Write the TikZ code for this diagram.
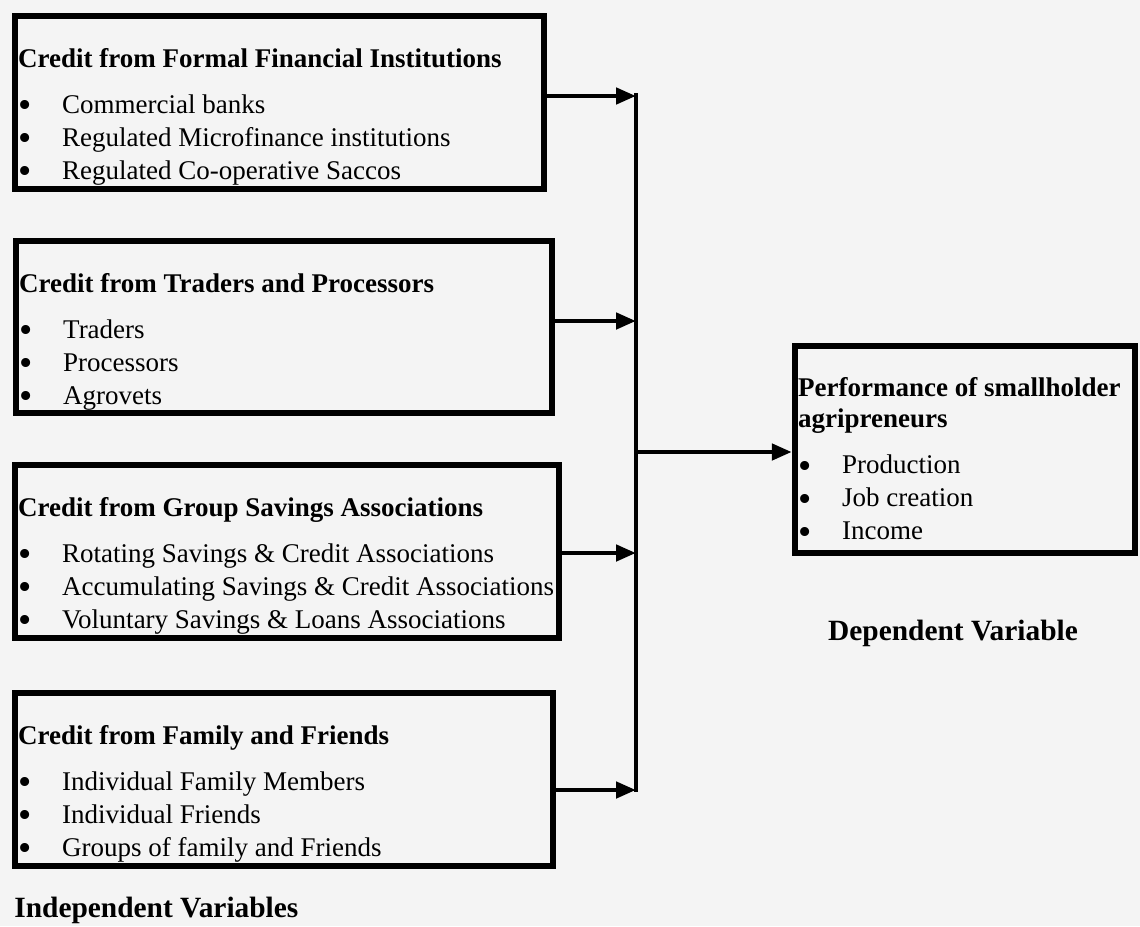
\documentclass[tikz,border=0pt]{standalone}
\usepackage{fontspec}
\setmainfont{Liberation Serif}
\usetikzlibrary{arrows.meta,positioning}
\definecolor{pagegray}{HTML}{F4F4F4}
\newcommand{\itm}[1]{\makebox[22pt][l]{\smash{\raisebox{-2.4pt}{\scalebox{1.4}{\textbullet}}}}#1}

\begin{document}
\begin{tikzpicture}[x=0.5pt,y=-0.5pt,
  varbox/.style={draw, line width=3.2pt, inner sep=0pt},
  itemlist/.style={align=left, inner sep=0pt, anchor=north west, font=\fontsize{13.5}{16.5}\selectfont},
  varlabel/.style={inner sep=0pt, font=\bfseries\fontsize{14.7}{17}\selectfont},
  link/.style={line width=2.3pt, -{Triangle[length=10pt,width=8pt]}}]
\fill[pagegray] (0,0) rectangle (1140,926);
\node[varbox, minimum width=264.5pt, minimum height=86.5pt] (formal) at (279.5,102.5) {};
\node[varbox, minimum width=268pt, minimum height=86pt] (traders) at (284,327) {};
\node[varbox, minimum width=272pt, minimum height=86.5pt] (groups) at (287,551.5) {};
\node[varbox, minimum width=269pt, minimum height=86.5pt] (family) at (284,779.5) {};
\node[varbox, minimum width=170pt, minimum height=103.5pt] (perf) at (965,449.5) {};
\node[itemlist] (formaltxt) at ([xshift=3pt, yshift=-17.4pt]formal.north west) {\textbf{Credit from Formal Financial Institutions}\\[6.5pt]
  \itm{Commercial banks}\\ \itm{Regulated Microfinance institutions}\\ \itm{Regulated Co-operative Saccos}};
\node[itemlist] (traderstxt) at ([xshift=3pt, yshift=-17.4pt]traders.north west) {\textbf{Credit from Traders and Processors}\\[6.5pt]
  \itm{Traders}\\ \itm{Processors}\\ \itm{Agrovets}};
\node[itemlist] (groupstxt) at ([xshift=3pt, yshift=-17.4pt]groups.north west) {\textbf{Credit from Group Savings Associations}\\[6.5pt]
  \itm{Rotating Savings \& Credit Associations}\\ \itm{Accumulating Savings \& Credit Associations}\\ \itm{Voluntary Savings \& Loans Associations}};
\node[itemlist] (familytxt) at ([xshift=3pt, yshift=-17.4pt]family.north west) {\textbf{Credit from Family and Friends}\\[6.5pt]
  \itm{Individual Family Members}\\ \itm{Individual Friends}\\ \itm{Groups of family and Friends}};
\node[itemlist] (perftxt) at ([xshift=3pt, yshift=-17pt]perf.north west) {\textbf{Performance of smallholder}\\[-1pt]\textbf{agripreneurs}\\[6.5pt]
  \itm{Production}\\ \itm{Job creation}\\ \itm{Income}};
\node[varlabel] (dep) at (953,633) {Dependent Variable};
\node[varlabel, anchor=west] (indep) at (14,910) {Independent Variables};
\coordinate (bustop) at (636,93);
\coordinate (busend) at (636,792);
\coordinate (b1) at (636,96);
\coordinate (b2) at (636,321);
\coordinate (b3) at (636,553);
\coordinate (b4) at (636,790);
\coordinate (bmid) at (636,452);
\draw[line width=2.3pt] (bustop) -- (busend);
\draw[link] (formal.east |- b1) -- (b1);
\draw[link] (traders.east |- b2) -- (b2);
\draw[link] (groups.east |- b3) -- (b3);
\draw[link] (family.east |- b4) -- (b4);
\draw[link] (bmid) -- (perf.west |- bmid);
\end{tikzpicture}
\end{document}
